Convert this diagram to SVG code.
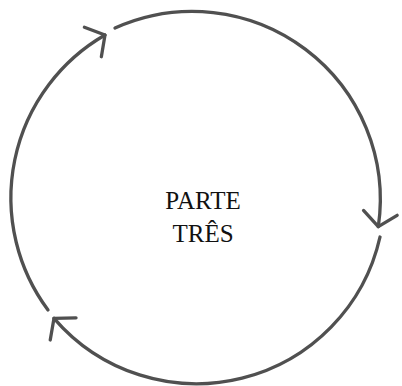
<svg xmlns="http://www.w3.org/2000/svg" width="402" height="386" viewBox="0 0 402 386">
  <style>
    .arc { fill: none; stroke: #505050; stroke-width: 3.3; stroke-linecap: round; }
    .head { fill: none; stroke: #505050; stroke-width: 3.3; stroke-linecap: round; stroke-linejoin: round; }
    .label { font-family: "Liberation Serif", "Times New Roman", serif; font-size: 25px; fill: #111; text-anchor: middle; }
  </style>
  <defs>
    <marker id="vhead" markerUnits="userSpaceOnUse" markerWidth="40" markerHeight="40" refX="0" refY="0" viewBox="-20 -20 40 40" orient="auto" overflow="visible">
      <path class="head" d="M-14,-17 L0,0 L-14,17"/>
    </marker>
  </defs>
  <rect width="402" height="386" fill="#fff"/>
  <g id="connectors">
    <path class="arc" d="M115,28 A188,188 0 0 1 378.3,226.7" marker-end="url(#vhead)"/>
    <path class="arc" d="M380,237 A188,188 0 0 1 54,318.3" marker-end="url(#vhead)"/>
    <path class="arc" d="M48,310 A188,188 0 0 1 105,35" marker-end="url(#vhead)"/>
  </g>
  <g id="node-parte-tres">
    <text class="label" x="203" y="208.5">PARTE</text>
    <text class="label" x="203" y="241.5">TRÊS</text>
  </g>
</svg>
